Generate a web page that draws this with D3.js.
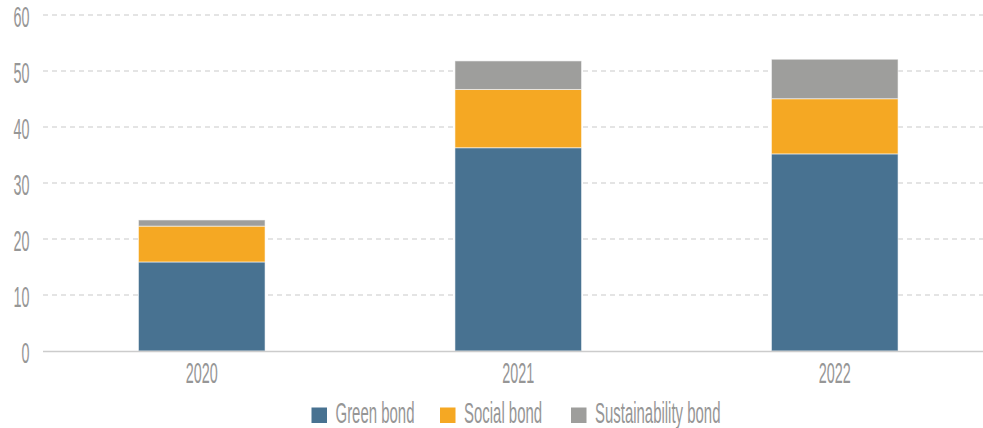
<!DOCTYPE html>
<html><head><meta charset="utf-8">
<script src="https://cdn.jsdelivr.net/npm/d3@7"></script>
<style>
html,body{margin:0;padding:0;background:#fff;}
svg{display:block;}
text{font-family:"Liberation Sans Narrow","Liberation Sans",sans-serif;fill:#969696;}
</style></head>
<body>
<svg id="chart" width="983" height="428"></svg>
<script>
const years = ["2020", "2021", "2022"];
const seriesNames = ["Green bond", "Social bond", "Sustainability bond"];
const greenBond = [15.9, 36.3, 35.2];
const socialBond = [6.4, 10.4, 9.85];
const sustainabilityBond = [1.1, 5.1, 7.05];
const yTicks = [0, 10, 20, 30, 40, 50, 60];
const colors = ["#487291", "#f5a823", "#9e9e9c"];

const svg = d3.select("#chart");
const plot = {left: 43, right: 983, top: 15, bottom: 351};

const x = d3.scaleBand().domain(years).range([43.5, 993]).paddingInner(0.6).paddingOuter(0.3);
const y = d3.scaleLinear().domain([0, 60]).range([plot.bottom, plot.top]);

const FS = 25;
function measure(t) {
  const p = svg.append("text").attr("font-size", FS).text(t);
  const w = p.node().getComputedTextLength();
  p.remove();
  return w;
}
const sxDig = 32 / measure("2020");
const sxLeg = 79 / measure("Green bond");
const sy = 1.2;

function label(g, txt, X, Y, anchor, sx) {
  return g.append("text")
    .attr("font-size", FS)
    .attr("text-anchor", anchor)
    .attr("transform", `translate(${X},${Y}) scale(${sx},${sy})`)
    .text(txt);
}

// gridlines
svg.append("g").selectAll("line").data(yTicks.filter(d => d > 0)).join("line")
  .attr("x1", plot.left).attr("x2", plot.right)
  .attr("y1", d => y(d)).attr("y2", d => y(d))
  .attr("stroke", "#c9c9c9").attr("stroke-width", 1).attr("stroke-dasharray", "5,4");

// y tick labels
const yl = svg.append("g");
yTicks.forEach(t => label(yl, String(t), 29.5, y(t) + 12, "end", sxDig));

// stacked bars
const rows = years.map((yr, i) => ({year: yr, "Green bond": greenBond[i], "Social bond": socialBond[i], "Sustainability bond": sustainabilityBond[i]}));
const stack = d3.stack().keys(seriesNames)(rows);
svg.append("g").selectAll("g").data(stack).join("g")
  .attr("fill", (d, i) => colors[i])
  .selectAll("rect").data(d => d).join("rect")
  .attr("x", d => x(d.data.year))
  .attr("width", x.bandwidth())
  .attr("y", d => y(d[1]))
  .attr("height", d => y(d[0]) - y(d[1]))
  .attr("stroke", "#ffffff").attr("stroke-opacity", 0.55).attr("stroke-width", 1);

// x axis line
svg.append("line").attr("x1", plot.left).attr("x2", plot.right)
  .attr("y1", y(0) + 0.5).attr("y2", y(0) + 0.5)
  .attr("stroke", "#cccccc").attr("stroke-width", 1.6);

// x labels
const xl = svg.append("g");
years.forEach(yr => label(xl, yr, x(yr) + x.bandwidth() / 2, 383, "middle", sxDig));

// legend
const legendX = [311.5, 440, 571];
const lg = svg.append("g");
seriesNames.forEach((s, i) => {
  lg.append("rect").attr("x", legendX[i]).attr("y", 407.5).attr("width", 15.5).attr("height", 15.5).attr("fill", colors[i]);
  label(lg, s, legendX[i] + 24, 423, "start", sxLeg);
});
</script>
</body></html>
